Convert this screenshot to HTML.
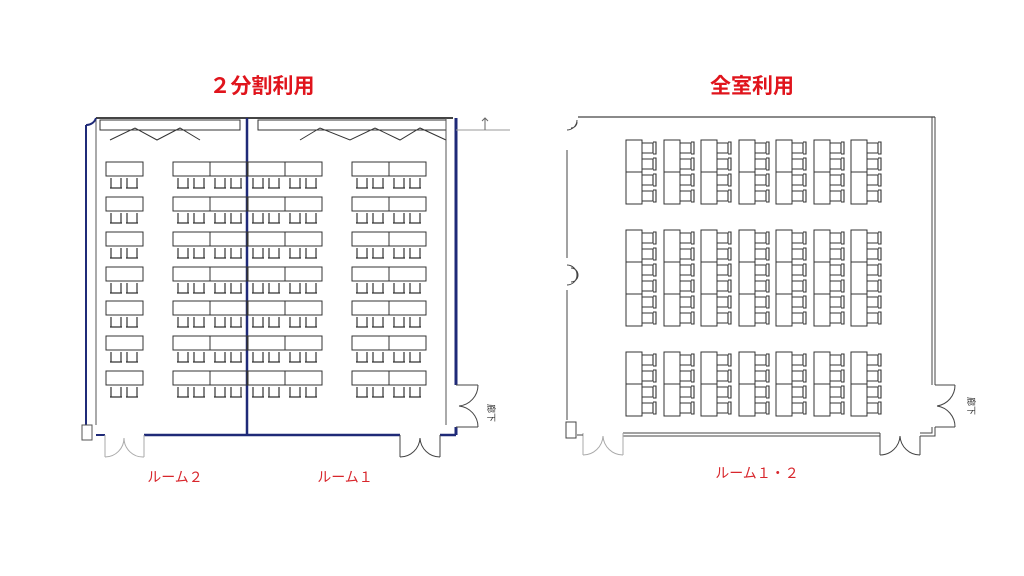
<!DOCTYPE html>
<html><head><meta charset="utf-8"><style>
body{margin:0;background:#fff;width:1024px;height:576px;overflow:hidden}
svg{display:block}
text{font-family:"Liberation Sans","Noto Sans CJK JP",sans-serif}
</style></head><body>
<svg id="s" width="1024" height="576" viewBox="0 0 1024 576" xmlns="http://www.w3.org/2000/svg">
<rect width="1024" height="576" fill="#fff"/>
<text x="262" y="93" text-anchor="middle" font-size="21" font-weight="bold" fill="#e0141c">２分割利用</text>
<text x="752" y="93" text-anchor="middle" font-size="21" font-weight="bold" fill="#e0141c">全室利用</text>
<text x="175" y="482" text-anchor="middle" font-size="14" fill="#d8262c">ルーム２</text>
<text x="345" y="482" text-anchor="middle" font-size="14" fill="#d8262c">ルーム１</text>
<text x="757" y="478" text-anchor="middle" font-size="14" fill="#d8262c">ルーム１・２</text>
<g id="L" fill="none" stroke="#333" stroke-width="1">
<!-- top partition storage -->
<line x1="96" y1="118" x2="453" y2="118" stroke="#444" stroke-width="2"/>
<rect x="100" y="120" width="140" height="10"/>
<rect x="258" y="120" width="188" height="10"/>
<polyline points="110,140 135,128 157,140 180,128 200,140"/>
<polyline points="300,140 320,128 350,140 375,128 400,140 420,128 446,140"/>
<!-- walls -->
<line x1="96" y1="118" x2="96" y2="425" stroke="#555"/>
<line x1="446" y1="118" x2="446" y2="425" stroke="#555"/>
<line x1="456" y1="118" x2="456" y2="385" stroke="#1f2a78" stroke-width="3"/>
<line x1="456" y1="427" x2="456" y2="435" stroke="#1f2a78" stroke-width="3"/>
<line x1="86" y1="125" x2="86" y2="425" stroke="#1f2a78" stroke-width="2"/>
<line x1="247" y1="118" x2="247" y2="435" stroke="#1f2a78" stroke-width="2.5"/>
<line x1="96" y1="435" x2="105" y2="435" stroke="#1f2a78" stroke-width="2"/>
<line x1="144" y1="435" x2="400" y2="435" stroke="#1f2a78" stroke-width="2.5"/>
<line x1="440" y1="435" x2="456" y2="435" stroke="#1f2a78" stroke-width="2.5"/>
<path d="M86 125 A10 10 0 0 0 96 118" stroke="#1f2a78" stroke-width="2"/>
<!-- doors -->
<path d="M105 435 V457 M144 435 V457 M105 457 A19 19 0 0 0 124 438 M144 457 A19 19 0 0 1 124 438" stroke="#aaa"/>
<path d="M400 435 V457 M440 435 V457 M400 457 A20 20 0 0 0 420 438 M440 457 A20 20 0 0 1 420 438" stroke="#444"/>
<path d="M456 385 H478 M456 427 H478 M478 385 A21 21 0 0 1 459 406 M478 427 A21 21 0 0 0 459 406" stroke="#444"/>
<line x1="456" y1="130" x2="510" y2="130" stroke="#999"/>
<path d="M485 130 V118 M482 121 L485 118 L488 121" stroke="#666"/>
<rect x="82" y="425" width="10" height="15" stroke="#555"/>
</g>
<text x="0" y="0" font-size="9" fill="#333" transform="translate(488,404) rotate(90)">廊下</text>
<text x="0" y="0" font-size="9" fill="#333" transform="translate(968,397) rotate(90)">廊下</text>
<g id="R" fill="none" stroke="#444" stroke-width="1">
<line x1="578" y1="117" x2="935" y2="117" stroke-width="1.3"/>
<line x1="567" y1="150" x2="567" y2="258"/>
<line x1="567" y1="290" x2="567" y2="420"/>
<path d="M567 265 A10 10 0 0 1 567 285 M571 268 A7 7 0 0 1 571 282"/>
<path d="M567 130 A10 10 0 0 0 577 120 M571 128 A6 6 0 0 0 577 122"/>
<line x1="932" y1="117" x2="932" y2="385"/>
<line x1="935" y1="117" x2="935" y2="385"/>
<path d="M935 385 H955 M935 427 H955 M955 385 A21 21 0 0 1 937 406 M955 427 A21 21 0 0 0 937 406"/>
<path d="M932 427 V433 H920 M935 427 V436 H920"/>
<line x1="623" y1="433" x2="880" y2="433"/>
<line x1="623" y1="436" x2="880" y2="436"/>
<path d="M880 433 V455 M920 436 V455 M880 455 A20 20 0 0 0 900 436 M920 455 A20 20 0 0 1 900 436"/>
<path d="M583 433 V455 M623 433 V455 M583 455 A20 20 0 0 0 603 436 M623 455 A20 20 0 0 1 603 436" stroke="#aaa"/>
<line x1="577" y1="435" x2="583" y2="435"/>
<rect x="566" y="422" width="10" height="16"/>
</g>
</svg>
<script>
var ns="http://www.w3.org/2000/svg",s=document.getElementById('s');
function el(t,a){var e=document.createElementNS(ns,t);for(var k in a)e.setAttribute(k,a[k]);e.setAttribute('fill',a.fill||'none');e.setAttribute('stroke',a.stroke||'#333');e.setAttribute('stroke-width',a.sw||1);s.appendChild(e);return e}
// left tables
var rows=[162,197,232,267,301,336,371],cols=[106,173,210,248,285,352,389];
rows.forEach(function(y){cols.forEach(function(x){
 el('rect',{x:x,y:y,width:37,height:14});
 [x+5,x+21].forEach(function(cx){el('path',{d:'M'+cx+' '+(y+16)+' v10 h10 v-10 M'+(cx-1)+' '+(y+26)+' h12',sw:1.2})});
});});
// right tables
var rc=[626,664,701,739,776,814,851],blocks=[[140,2],[230,3],[352,2]];
blocks.forEach(function(b){rc.forEach(function(x){
 for(var i=0;i<b[1];i++){var y=b[0]+i*32;el('rect',{x:x,y:y,width:16,height:32});
  [y+3,y+19].forEach(function(cy){el('path',{d:'M'+(x+16)+' '+cy+' h11 v10 h-11 M'+(x+27)+' '+(cy-1)+' h3 v12 h-3',sw:1.1})});}
});});
</script>
</body></html>
